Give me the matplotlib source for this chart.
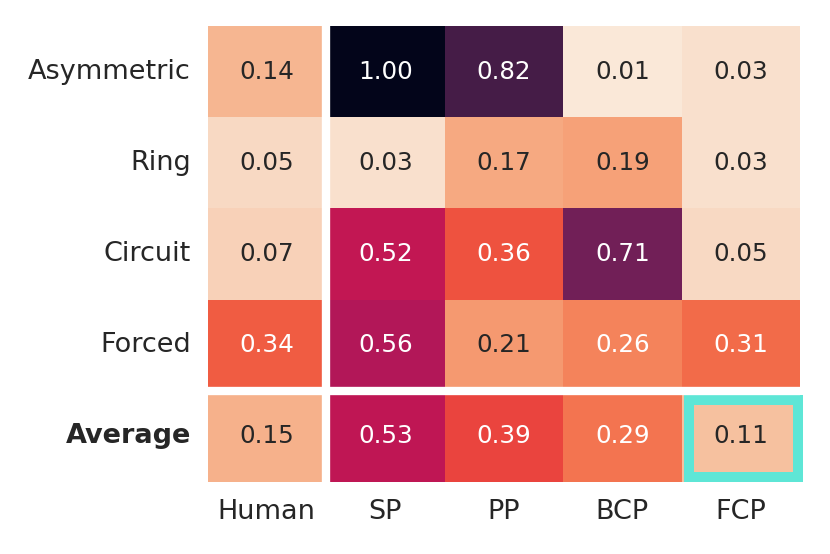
import matplotlib
matplotlib.use("Agg")
import matplotlib.pyplot as plt
import seaborn as sns
import numpy as np
import pandas as pd
from matplotlib.patches import Rectangle

rows = ["Asymmetric", "Ring", "Circuit", "Forced", "Average"]
cols = ["Human", "SP", "PP", "BCP", "FCP"]
human = [0.14, 0.05, 0.07, 0.34, 0.15]
sp = [1.00, 0.03, 0.52, 0.56, 0.53]
pp = [0.82, 0.17, 0.36, 0.21, 0.39]
bcp = [0.01, 0.19, 0.71, 0.26, 0.29]
fcp = [0.03, 0.03, 0.05, 0.31, 0.11]

df = pd.DataFrame({"Human": human, "SP": sp, "PP": pp, "BCP": bcp, "FCP": fcp}, index=rows)

sns.set_theme(style="white")
plt.rcParams['font.family'] = ['DejaVu Sans']

fig = plt.figure(figsize=(8.3, 5.54), dpi=100)
ax = fig.add_axes([0.25, 0.13, 0.714, 0.823])
sns.heatmap(df, ax=ax, cmap="rocket_r", vmin=0, vmax=1, annot=True, fmt=".2f",
            cbar=False, annot_kws={"fontsize": 17.7})
ax.axvline(1, color="white", lw=6)
ax.axhline(4, color="white", lw=6)
ax.add_patch(Rectangle((4.0625, 4.105), 0.92, 0.835, fill=False, edgecolor="#5ee6d6",
                       lw=7.2, clip_on=False))
ax.tick_params(length=0, labelsize=19.5, pad=12)
ax.set_yticklabels(rows, rotation=0)
ax.set_xticklabels(cols, rotation=0)
for lbl in ax.get_yticklabels():
    if lbl.get_text() == "Average":
        lbl.set_fontweight("bold")
fig.savefig("out.png", dpi=100)
